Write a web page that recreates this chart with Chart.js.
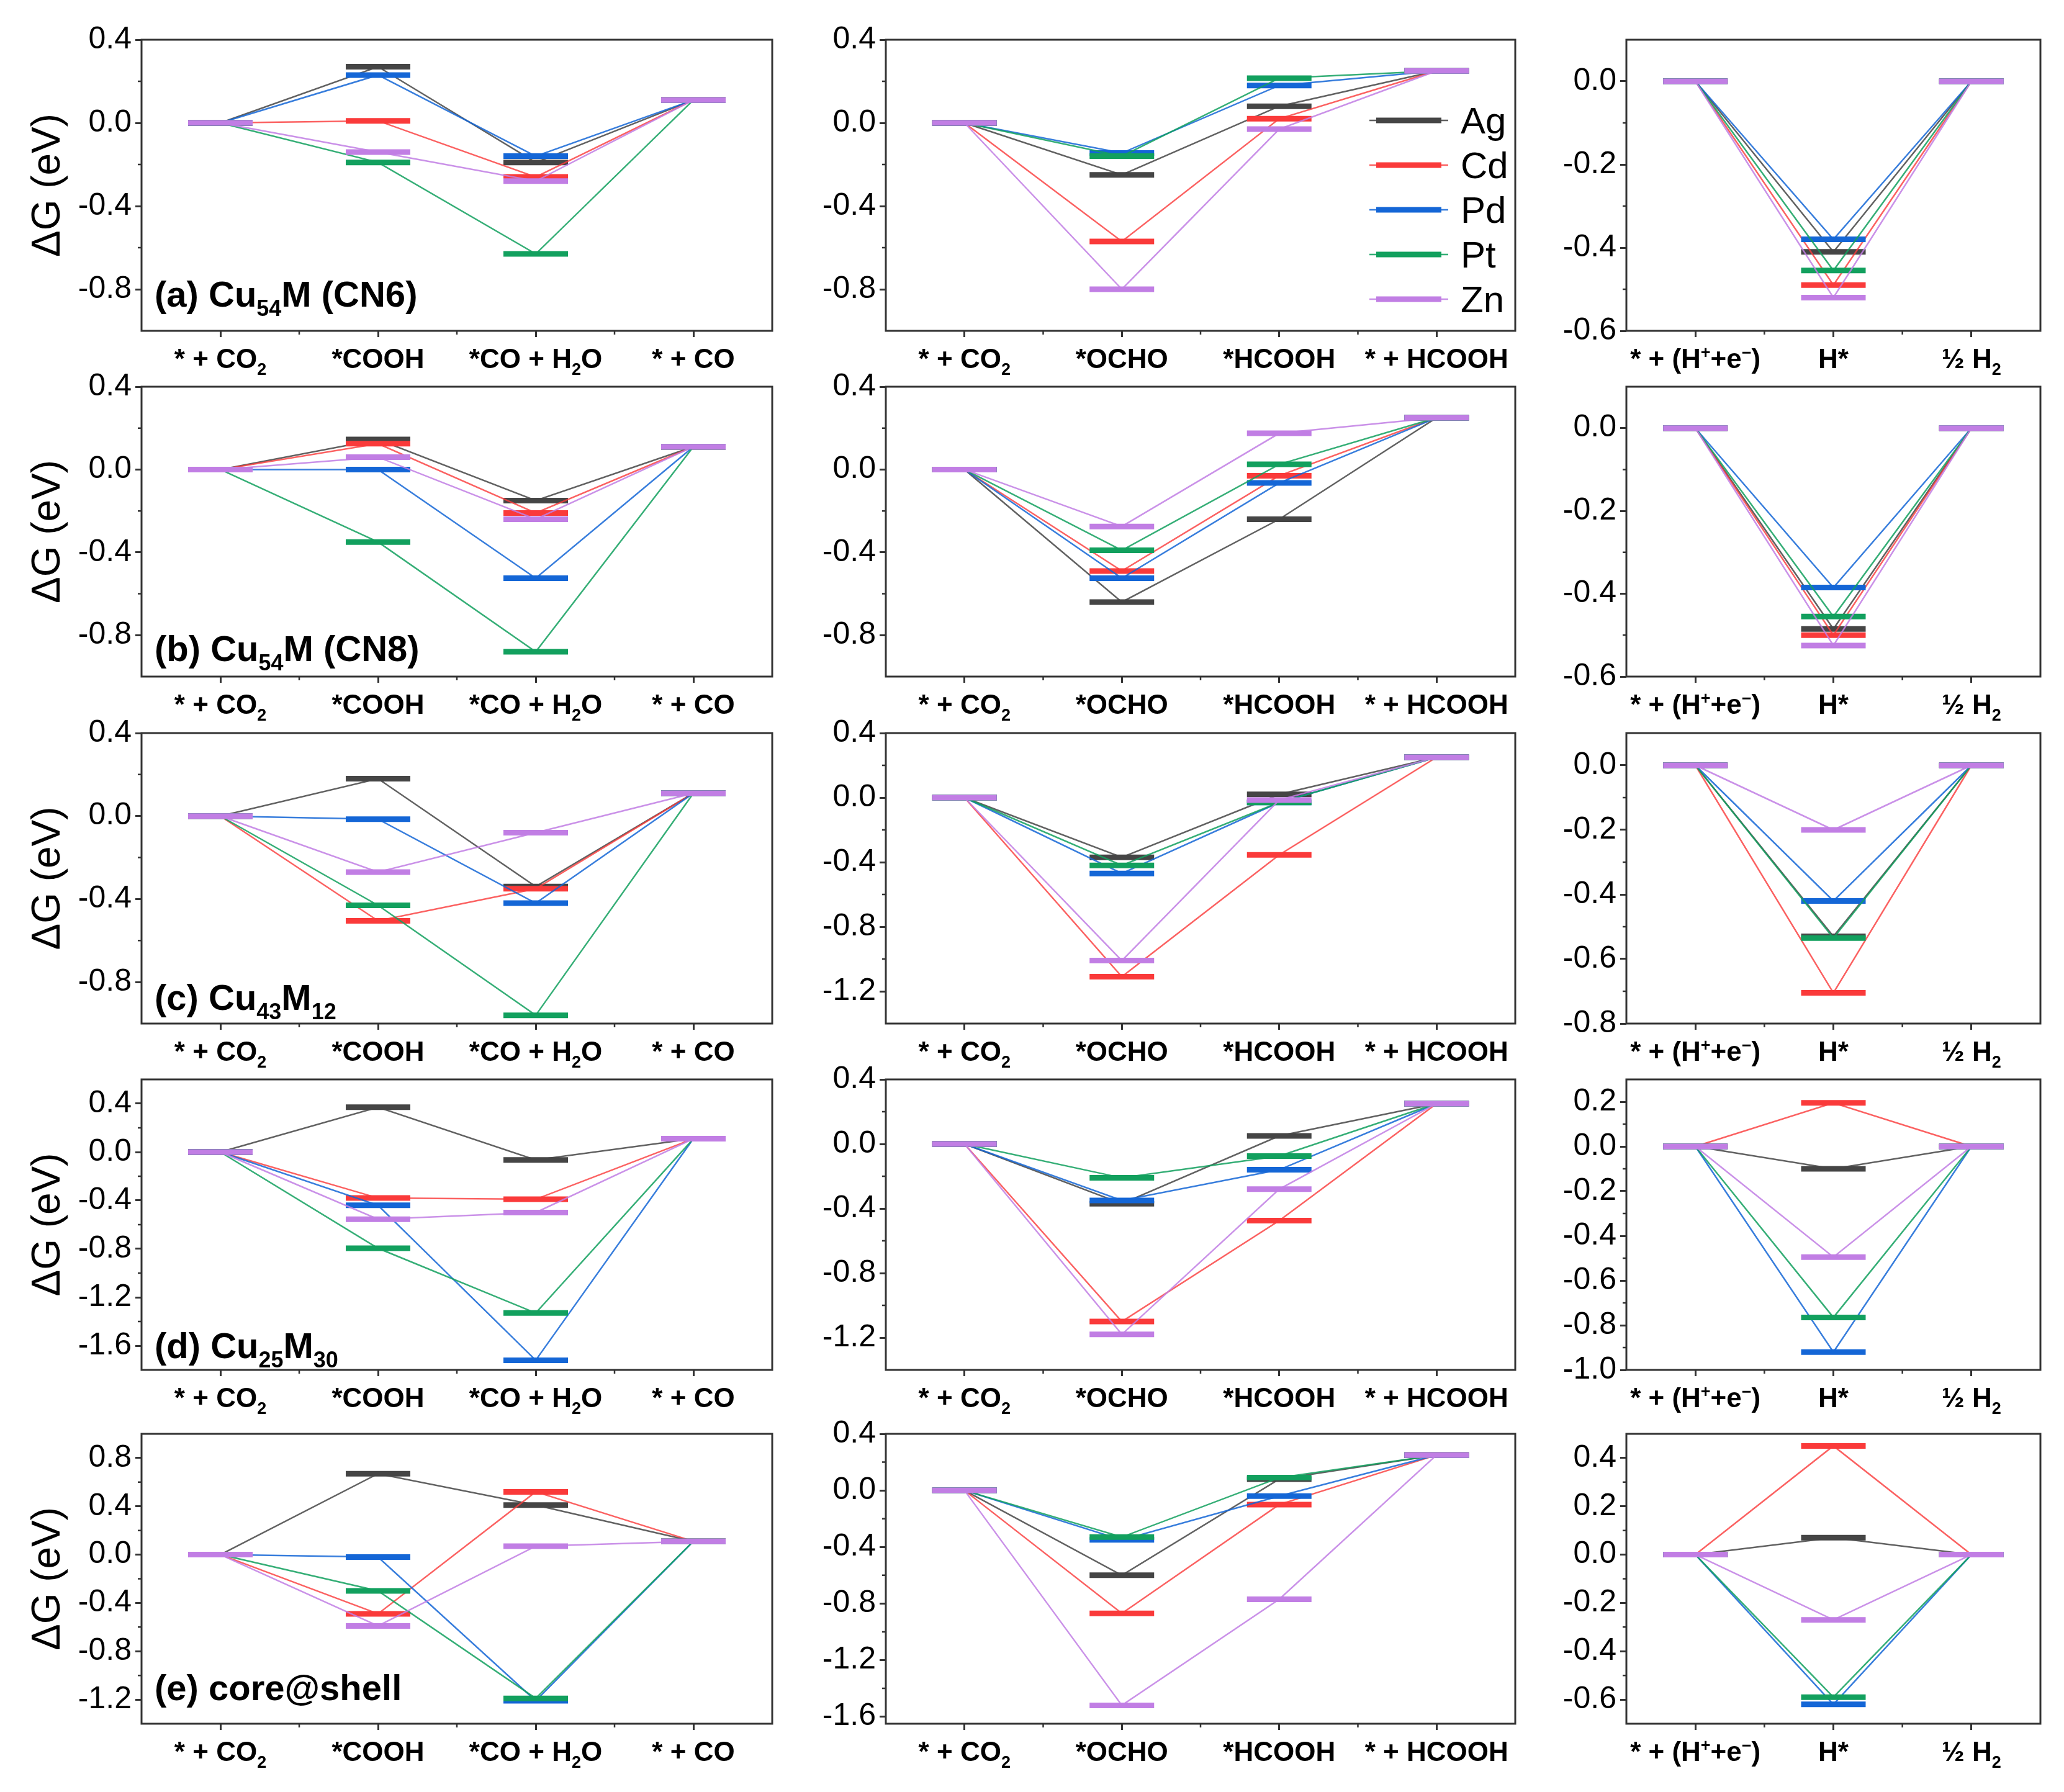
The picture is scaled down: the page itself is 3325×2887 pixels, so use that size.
<!DOCTYPE html>
<html>
<head>
<meta charset="utf-8">
<script src="https://cdn.jsdelivr.net/npm/chart.js@4.4.1/dist/chart.umd.min.js"></script>
<style>
    body { margin: 0; background: #fff; width: 3325px; height: 2887px; position: relative; overflow: hidden; }
    canvas { position: absolute; }
</style>
</head>
<body>
<script>
// Metals, one series per metal (same order in every value table below)
const metals = ['Ag', 'Cd', 'Pd', 'Pt', 'Zn'];

// Reaction steps (x categories); _{..} = subscript, ^{..} = superscript
const co2Steps = ['* + CO_{2}', '*COOH', '*CO + H_{2}O', '* + CO'];
const hcoohSteps = ['* + CO_{2}', '*OCHO', '*HCOOH', '* + HCOOH'];
const herSteps = ['* + (H^{+}+e^{\u2212})', 'H*', '\u00bd H_{2}'];

const panelLabels = ['(a) Cu_{54}M (CN6)', '(b) Cu_{54}M (CN8)', '(c) Cu_{43}M_{12}', '(d) Cu_{25}M_{30}', '(e) core@shell'];

// ΔG values (eV), rows: Ag, Cd, Pd, Pt, Zn
const coA = [[0, 0.27, -0.19, 0.11], [0, 0.01, -0.26, 0.11], [0, 0.23, -0.16, 0.11], [0, -0.19, -0.63, 0.11], [0, -0.14, -0.28, 0.11]];
const hcA = [[0, -0.25, 0.08, 0.25], [0, -0.57, 0.02, 0.25], [0, -0.145, 0.18, 0.25], [0, -0.16, 0.215, 0.25], [0, -0.80, -0.03, 0.25]];
const herA = [[0, -0.41, 0], [0, -0.49, 0], [0, -0.38, 0], [0, -0.455, 0], [0, -0.52, 0]];

const coB = [[0, 0.145, -0.15, 0.11], [0, 0.125, -0.21, 0.11], [0, 0.0, -0.525, 0.11], [0, -0.35, -0.88, 0.11], [0, 0.06, -0.24, 0.11]];
const hcB = [[0, -0.64, -0.24, 0.25], [0, -0.49, -0.03, 0.25], [0, -0.525, -0.065, 0.25], [0, -0.39, 0.025, 0.25], [0, -0.275, 0.175, 0.25]];
const herB = [[0, -0.485, 0], [0, -0.50, 0], [0, -0.385, 0], [0, -0.455, 0], [0, -0.525, 0]];

const coC = [[0, 0.18, -0.34, 0.11], [0, -0.505, -0.35, 0.11], [0, -0.015, -0.42, 0.11], [0, -0.43, -0.96, 0.11], [0, -0.27, -0.08, 0.11]];
const hcC = [[0, -0.37, 0.02, 0.25], [0, -1.11, -0.355, 0.25], [0, -0.47, -0.03, 0.25], [0, -0.42, -0.03, 0.25], [0, -1.01, -0.015, 0.25]];
const herC = [[0, -0.53, 0], [0, -0.705, 0], [0, -0.42, 0], [0, -0.535, 0], [0, -0.20, 0]];

const coD = [[0, 0.37, -0.065, 0.11], [0, -0.38, -0.39, 0.11], [0, -0.44, -1.72, 0.11], [0, -0.795, -1.33, 0.11], [0, -0.555, -0.50, 0.11]];
const hcD = [[0, -0.37, 0.05, 0.25], [0, -1.10, -0.475, 0.25], [0, -0.35, -0.16, 0.25], [0, -0.21, -0.075, 0.25], [0, -1.18, -0.28, 0.25]];
const herD = [[0, -0.10, 0], [0, 0.195, 0], [0, -0.92, 0], [0, -0.765, 0], [0, -0.495, 0]];

const coE = [[0, 0.67, 0.41, 0.11], [0, -0.49, 0.52, 0.11], [0, -0.02, -1.21, 0.11], [0, -0.30, -1.19, 0.11], [0, -0.59, 0.07, 0.11]];
const hcE = [[0, -0.60, 0.08, 0.25], [0, -0.87, -0.10, 0.25], [0, -0.35, -0.04, 0.25], [0, -0.33, 0.09, 0.25], [0, -1.52, -0.77, 0.25]];
const herE = [[0, 0.07, 0], [0, 0.45, 0], [0, -0.62, 0], [0, -0.59, 0], [0, -0.27, 0]];

// Y axis ranges and labelled ticks
const rangeCoAB = [-1.0, 0.4], ticksCoAB = [0.4, 0.0, -0.4, -0.8];
const rangeCoD = [-1.8, 0.6], ticksCoD = [0.4, 0.0, -0.4, -0.8, -1.2, -1.6];
const rangeCoE = [-1.4, 1.0], ticksCoE = [0.8, 0.4, 0.0, -0.4, -0.8, -1.2];
const rangeHcAB = [-1.0, 0.4], ticksHcAB = [0.4, 0.0, -0.4, -0.8];
const rangeHcCD = [-1.4, 0.4], ticksHcCD = [0.4, 0.0, -0.4, -0.8, -1.2];
const rangeHcE = [-1.65, 0.4], ticksHcE = [0.4, 0.0, -0.4, -0.8, -1.2, -1.6];
const rangeHerAB = [-0.6, 0.1], ticksHerAB = [0.0, -0.2, -0.4, -0.6];
const rangeHerC = [-0.8, 0.1], ticksHerC = [0.0, -0.2, -0.4, -0.6, -0.8];
const rangeHerD = [-1.0, 0.3], ticksHerD = [0.2, 0.0, -0.2, -0.4, -0.6, -0.8, -1.0];
const rangeHerE = [-0.7, 0.5], ticksHerE = [0.4, 0.2, 0.0, -0.2, -0.4, -0.6];

// Layout (page pixels)
const colLeft = [228, 1427, 2620];
const colRight = [1244, 2441, 3287];
const rowTop = [64, 623, 1181, 1739, 2310];
const rowBottom = [533, 1090, 1649, 2207, 2777];
const leftPad = [228, 160, 160];
const topPad = 40;
const bottomPad = 90;
const labelLift = [39, 25, 22, 19, 38];
const FONT = '"Liberation Sans", Arial, sans-serif';

const barColors = ['#454545', '#fa3a3a', '#1466d6', '#12a05e', '#c17ee4'];
const lineColors = ['rgba(69,69,69,0.85)', 'rgba(250,58,58,0.8)', 'rgba(20,102,214,0.85)', 'rgba(18,160,94,0.85)', 'rgba(193,126,228,0.85)'];

const panels = [
    { steps: co2Steps, values: coA, range: rangeCoAB, ticks: ticksCoAB, label: panelLabels[0] },
    { steps: hcoohSteps, values: hcA, range: rangeHcAB, ticks: ticksHcAB, legend: true },
    { steps: herSteps, values: herA, range: rangeHerAB, ticks: ticksHerAB },
    { steps: co2Steps, values: coB, range: rangeCoAB, ticks: ticksCoAB, label: panelLabels[1] },
    { steps: hcoohSteps, values: hcB, range: rangeHcAB, ticks: ticksHcAB },
    { steps: herSteps, values: herB, range: rangeHerAB, ticks: ticksHerAB },
    { steps: co2Steps, values: coC, range: rangeCoAB, ticks: ticksCoAB, label: panelLabels[2] },
    { steps: hcoohSteps, values: hcC, range: rangeHcCD, ticks: ticksHcCD },
    { steps: herSteps, values: herC, range: rangeHerC, ticks: ticksHerC },
    { steps: co2Steps, values: coD, range: rangeCoD, ticks: ticksCoD, label: panelLabels[3] },
    { steps: hcoohSteps, values: hcD, range: rangeHcCD, ticks: ticksHcCD },
    { steps: herSteps, values: herD, range: rangeHerD, ticks: ticksHerD },
    { steps: co2Steps, values: coE, range: rangeCoE, ticks: ticksCoE, label: panelLabels[4] },
    { steps: hcoohSteps, values: hcE, range: rangeHcE, ticks: ticksHcE },
    { steps: herSteps, values: herE, range: rangeHerE, ticks: ticksHerE }
];

// Split "CO_{2}" style strings into normal / sub / sup runs
const parseRich = (str) => {
    const parts = [];
    const re = /([_^])\{([^}]*)\}/g;
    let last = 0, m;
    while ((m = re.exec(str))) {
        if (m.index > last) parts.push({ text: str.slice(last, m.index), kind: 'n' });
        parts.push({ text: m[2], kind: m[1] === '_' ? 'sub' : 'sup' });
        last = re.lastIndex;
    }
    if (last < str.length) parts.push({ text: str.slice(last), kind: 'n' });
    return parts;
};

const drawRich = (ctx, str, x, y, size, weight, align) => {
    const parts = parseRich(str);
    const fontFor = (k) => `${weight} ${k === 'n' ? size : Math.round(size * 0.62)}px ${FONT}`;
    let total = 0;
    parts.forEach(p => { ctx.font = fontFor(p.kind); p.w = ctx.measureText(p.text).width; total += p.w; });
    let cx = align === 'center' ? x - total / 2 : x;
    ctx.textAlign = 'left';
    ctx.textBaseline = 'alphabetic';
    ctx.fillStyle = '#000';
    parts.forEach(p => {
        ctx.font = fontFor(p.kind);
        const dy = p.kind === 'sub' ? size * 0.26 : (p.kind === 'sup' ? -size * 0.36 : 0);
        ctx.fillText(p.text, cx, y + dy);
        cx += p.w;
    });
};

// Frame, minor ticks, category labels, panel label and legend
const panelDecor = {
    id: 'panelDecor',
    afterDraw(chart, args, opts) {
        const { ctx, chartArea: a, scales } = chart;
        const p = opts.panel;
        ctx.save();
        ctx.strokeStyle = '#333';
        ctx.lineWidth = 3;
        ctx.strokeRect(a.left, a.top, a.right - a.left, a.bottom - a.top);

        // minor ticks on y
        const step = p.ticks[0] - p.ticks[1];
        ctx.lineWidth = 2.5;
        ctx.beginPath();
        for (let k = -20; k <= 20; k++) {
            const v = p.ticks[0] + step / 2 - k * step;
            if (v > p.range[0] + 1e-6 && v < p.range[1] - 1e-6) {
                const y = scales.y.getPixelForValue(v);
                ctx.moveTo(a.left - 6, y);
                ctx.lineTo(a.left, y);
            }
        }
        // minor ticks on x, between categories
        for (let i = 0; i < p.steps.length - 1; i++) {
            const x = (scales.x.getPixelForValue(i) + scales.x.getPixelForValue(i + 1)) / 2;
            ctx.moveTo(x, a.bottom);
            ctx.lineTo(x, a.bottom + 6);
        }
        ctx.stroke();

        p.steps.forEach((s, i) => {
            drawRich(ctx, s, scales.x.getPixelForValue(i), a.bottom + 60, 44, 'bold', 'center');
        });

        if (p.label) {
            drawRich(ctx, p.label, a.left + 21, a.bottom - p.lift, 58, 'bold', 'left');
        }

        if (p.legend) {
            metals.forEach((m, k) => {
                const y = a.top + 130 + k * 72;
                ctx.strokeStyle = lineColors[k];
                ctx.lineWidth = 2.5;
                ctx.beginPath();
                ctx.moveTo(a.left + 779, y);
                ctx.lineTo(a.left + 906, y);
                ctx.stroke();
                ctx.strokeStyle = barColors[k];
                ctx.lineWidth = 9;
                ctx.beginPath();
                ctx.moveTo(a.left + 790, y);
                ctx.lineTo(a.left + 895, y);
                ctx.stroke();
                ctx.fillStyle = '#000';
                ctx.font = `60px ${FONT}`;
                ctx.textAlign = 'left';
                ctx.textBaseline = 'alphabetic';
                ctx.fillText(m, a.left + 926, y + 21);
            });
        }
        ctx.restore();
    }
};

panels.forEach((p, idx) => {
    const row = Math.floor(idx / 3);
    const col = idx % 3;
    p.lift = labelLift[row];
    const areaW = colRight[col] - colLeft[col];
    const areaH = rowBottom[row] - rowTop[row];
    const canvas = document.createElement('canvas');
    canvas.width = leftPad[col] + areaW + 12;
    canvas.height = topPad + areaH + bottomPad;
    canvas.style.left = (colLeft[col] - leftPad[col]) + 'px';
    canvas.style.top = (rowTop[row] - topPad) + 'px';
    document.body.appendChild(canvas);

    new Chart(canvas.getContext('2d'), {
        type: 'line',
        data: {
            labels: p.steps,
            datasets: metals.map((m, k) => ({
                label: m,
                data: p.values[k],
                order: metals.length - k, // Zn drawn last (on top), as in the figure
                borderColor: lineColors[k],
                borderWidth: 2.5,
                tension: 0,
                fill: false,
                pointStyle: 'line',
                pointRadius: 52,
                pointBorderWidth: 9,
                pointBorderColor: barColors[k],
                pointBackgroundColor: barColors[k],
                clip: false
            }))
        },
        options: {
            responsive: false,
            devicePixelRatio: 1,
            animation: false,
            events: [],
            layout: { autoPadding: false, padding: { top: topPad, right: 12, left: 0, bottom: 0 } },
            plugins: {
                legend: { display: false },
                tooltip: { enabled: false },
                panelDecor: { panel: p }
            },
            scales: {
                x: {
                    type: 'category',
                    offset: true,
                    border: { display: false },
                    grid: { offset: false, drawOnChartArea: false, drawTicks: true, tickLength: 10, color: '#333', lineWidth: 3 },
                    ticks: { display: false },
                    afterFit: (s) => { s.height = bottomPad; s.paddingLeft = 0; s.paddingRight = 0; }
                },
                y: {
                    type: 'linear',
                    min: p.range[0],
                    max: p.range[1],
                    border: { display: false },
                    grid: { drawOnChartArea: false, drawTicks: true, tickLength: 10, color: '#333', lineWidth: 3 },
                    ticks: {
                        color: '#000',
                        padding: 6,
                        font: { family: FONT, size: 50 },
                        callback: (v) => Number(v).toFixed(1)
                    },
                    afterBuildTicks: (s) => { s.ticks = p.ticks.map(v => ({ value: v })); },
                    afterFit: (s) => { s.width = leftPad[col]; s.paddingTop = 0; s.paddingBottom = 0; },
                    title: {
                        display: col === 0,
                        text: '\u0394G (eV)',
                        color: '#000',
                        font: { family: FONT, size: 64 },
                        padding: { top: 40, bottom: 0 }
                    }
                }
            }
        },
        plugins: [panelDecor]
    });
});
</script>
</body>
</html>
